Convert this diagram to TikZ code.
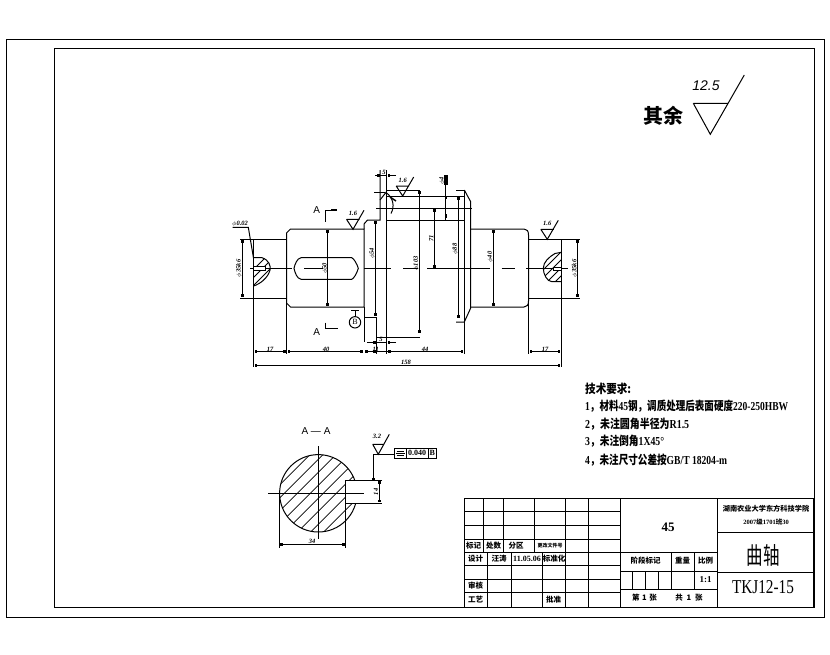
\documentclass[tikz,border=0pt]{standalone}
\usepackage{fontspec}
\setmainfont{Liberation Serif}
\newfontfamily\cjk{Noto Sans CJK SC}
\newfontfamily\sanslab{Liberation Sans}
\usetikzlibrary{arrows.meta}
\tikzset{
  ln/.style={line width=1pt,black},
  dimn/.style={line width=0.9pt,black,{Square[length=2.8pt,width=2.8pt]}-{Square[length=2.8pt,width=2.8pt]}},
  dimr/.style={line width=0.9pt,black,-{Square[length=2.8pt,width=2.8pt]}},
  small/.style={inner sep=0pt,font=\fontsize{6.5}{6.5}\selectfont\bfseries\itshape},
  smallr/.style={small,rotate=90},
  tb/.style={inner sep=0pt,font=\cjk\bfseries\fontsize{7.5}{8}\selectfont},
  req/.style={inner sep=0pt,anchor=west,font=\bfseries\fontsize{10}{11}\selectfont},
  secA/.style={inner sep=0pt,font=\sanslab\fontsize{10}{10}\selectfont}
}
\newcommand{\roughsym}[3]{% tip x, tip y, label
  \draw[ln] (#1-6.5,#2-10) -- (#1+6.5,#2-10) (#1-6.5,#2-10) -- (#1,#2) -- (#1+11,#2-19);
  \node[small] (rs#1) at (#1,#2-16) {#3};}
\newcommand{\cj}[1]{{\cjk #1}}
\begin{document}
\begin{tikzpicture}[x=1pt,y=-1pt]
\useasboundingbox (0,0) rectangle (830,654);
\fill[white] (0,0) rectangle (830,654);
% frames
\draw[ln] (6,39) rectangle (824,617);
\draw[ln] (54,48) rectangle (814,607);
% general roughness
\node[inner sep=0pt,font=\cjk\bfseries\fontsize{20}{20}\selectfont] (qiyu) at (663,116) {其余};
\node[inner sep=0pt,font=\sanslab\itshape\fontsize{14}{14}\selectfont] (ra) at (706,86) {12.5};
\draw[ln] (693.3,103.3) -- (728.3,103.3) (693.3,103.3) -- (710.3,134.3) -- (744.3,75);
% shaft outline
\draw[ln] (253.5,239) -- (286.5,239) (253.5,298) -- (286.5,298);
\draw[ln] (286.5,233) -- (290.5,229) -- (364,229) -- (364,307) -- (290.5,307) -- (286.5,303) -- cycle;
\draw[ln] (364,229) -- (364,224) -- (367.5,220) -- (380,220) -- (380,170);
\draw[ln] (364,307) -- (364,342);
\draw[ln] (364,317) -- (376.7,317) -- (376.7,337) -- (420,337);
\draw[ln] (386.7,170) -- (386.7,337);
\draw[ln] (386.7,190) -- (420,190) (456,190) -- (464.3,190);
\draw[ln] (386.7,196) -- (464.3,196);
\draw[ln] (376,208) -- (471.5,208);
\draw[ln] (386.7,220) -- (464.3,220);
\draw[ln] (464.3,190) -- (470.7,201.7) -- (470.7,308) -- (464.3,322) -- (456,322);
\draw[ln] (464.3,190) -- (464.3,354);
\draw[ln] (470.7,229) -- (524,229) .. controls (527,229) and (528.5,231) .. (528.5,235) -- (528.5,301) .. controls (528.5,305) and (527,307) .. (524,307) -- (470.7,307);
\draw[ln] (528.5,239) -- (561.3,239) (528.5,298) -- (561.3,298);
\draw[ln] (561.3,239) -- (561.3,367);
\draw[ln] (253.5,239) -- (253.5,367);
\draw[ln] (286.5,303) -- (286.5,354);
\draw[ln] (528.5,301) -- (528.5,354);
% key slot
\draw[ln] (294,268.3) .. controls (295,264) and (297,258.5) .. (301,257.7) -- (351.7,257.7) .. controls (354,258.5) and (357,264) .. (358.3,268.3) .. controls (357,273) and (354,278.5) .. (351.7,279.3) -- (301,279.3) .. controls (297,278.5) and (295,273) .. (294,268.3) -- cycle;
% centre line
\draw[ln] (250,268.3) -- (291.7,268.3) (304,268.3) -- (323,268.3) (364,268.3) -- (390.7,268.3) (403.3,268.3) -- (418.3,268.3) (427,268.3) -- (490,268.3) (501.7,268.3) -- (515,268.3) (526,268.3) -- (568.3,268.3);
% left end section
\begin{scope}
\clip (253.5,257.7) -- (262,257.7) .. controls (269,260) and (271,266) .. (270,270) .. controls (268,278) and (260,284) .. (253.5,286) -- cycle;
\foreach \k in {0,8,...,48}{\draw[line width=0.8pt] (253+\k-20,290) -- (253+\k+20,250);}
\end{scope}
\draw[ln] (253.5,257.7) -- (262,257.7) .. controls (269,260) and (271,266) .. (270,270) .. controls (268,278) and (260,284) .. (253.5,286);
\draw[ln,fill=white] (253.5,266.7) rectangle (265,270);
% right end section
\begin{scope}
\clip (561.3,252.3) -- (555,253.5) .. controls (549,257) and (543.3,262) .. (543.3,268.3) .. controls (543.3,274) and (547,281.7) .. (552,281.7) -- (561.3,281.7) -- cycle;
\foreach \k in {0,8,...,48}{\draw[line width=0.8pt] (535+\k-20,290) -- (535+\k+20,250);}
\end{scope}
\draw[ln] (561.3,252.3) -- (555,253.5) .. controls (549,257) and (543.3,262) .. (543.3,268.3) .. controls (543.3,274) and (547,281.7) .. (552,281.7) -- (561.3,281.7);
\draw[ln,fill=white] (553.3,267) rectangle (561.3,270);
% extension lines
\draw[ln] (240,239) -- (253.5,239) (240,298) -- (253.5,298);
\draw[ln] (561.3,239) -- (580,239) (561.3,298) -- (580,298);
% dimensions vertical
\draw[dimn] (242.3,240) -- (242.3,297);
\draw[dimn] (327.5,230) -- (327.5,306);
\draw[dimn] (375,221) -- (375,316);
\draw[dimn] (419.5,191) -- (419.5,333);
\draw[dimn] (434,209) -- (434,267.5);
\draw[dimn] (458,197) -- (458,318);
\draw[dimn] (493,230) -- (493,306);
\draw[dimn] (577.3,240) -- (577.3,297);
\draw[ln] (445.5,175) -- (445.5,220);
\fill (444,175) rectangle (447.5,185);
\fill (445,196) rectangle (446.5,199);
\fill (445,214) rectangle (446.5,218);
% dimensions horizontal
\draw[dimn] (254.5,351.7) -- (285.5,351.7);
\draw[dimn] (287.5,351.7) -- (363,351.7);
\draw[dimn] (365,351.7) -- (375.7,351.7);
\draw[dimn] (387.7,351.7) -- (463.3,351.7);
\draw[dimn] (529.5,351.7) -- (560.3,351.7);
\draw[dimn] (254.5,365.3) -- (560.3,365.3);
\draw[ln] (376.7,337) -- (376.7,354);
\draw[ln] (386.7,337) -- (386.7,354);
\draw[ln] (375.7,351.7) -- (392,351.7);
\draw[dimr] (367,342) -- (376,342);
\draw[dimr] (396,342) -- (387.5,342);
\draw[ln] (376.7,342) -- (386.7,342);
\draw[dimr] (375,175) -- (379.5,175);
\draw[dimr] (396,175) -- (387.5,175);
\draw[ln] (380,175) -- (386.7,175);
% chamfer callout
\draw[ln] (374,192.3) -- (385,192.3);
\draw[ln] (380,200) -- (386.7,191.5);
\draw[ln] (386.7,193) .. controls (393,198) and (395,206) .. (391,213.5);
\draw[line width=1.4pt] (390,197) -- (396,201);
% leader left
\draw[ln] (232.5,227.3) -- (248.3,227.3) -- (253.5,258);
% labels
\node[small] (t1) at (240,224) {$\phi$0.02};
\node[smallr] (t2) at (239,268.3) {$\phi$35k6};
\node[smallr] (t3) at (325,268.3) {$\phi$50};
\node[smallr] (t4) at (372.3,253.3) {$\phi$54};
\node[smallr] (t5) at (416.3,263.5) {$\phi$103};
\node[smallr] (t6) at (431.3,238.5) {71};
\node[smallr] (t7) at (455.3,249) {$\phi$88};
\node[smallr] (t8) at (490.3,257) {$\phi$40};
\node[smallr] (t9) at (574.7,268.3) {$\phi$35k6};
\node[smallr] (t10) at (442,181) {$\phi$4};
\node[small] (t11) at (270,349) {17};
\node[small] (t12) at (326,349) {40};
\node[small] (t13) at (375.7,349) {11};
\node[small] (t14) at (425,349) {44};
\node[small] (t15) at (545,349) {17};
\node[small] (t16) at (406,362) {158};
\node[small] (t17) at (381,339) {5};
\node[small] (t18) at (384,172) {5};
% roughness marks
\roughsym{353}{229.3}{1.6}
\roughsym{402.7}{196}{1.6}
\roughsym{547.3}{239.3}{1.6}
% section marks
\node[secA] (a1) at (316.7,210) {A};
\draw[ln] (325.3,221.7) -- (325.3,210) -- (331,210);
\draw[line width=1.4pt] (331,210) -- (337.3,210);
\node[secA] (a2) at (316.7,331.7) {A};
\draw[ln] (325.3,322.7) -- (325.3,328.7) -- (331,328.7);
\draw[line width=1.4pt] (331,328.7) -- (338.3,328.7);
% datum B
\draw[ln] (355,322.3) circle (5.7);
\node[inner sep=0pt,font=\fontsize{8}{8}\selectfont] (dB) at (355,322.3) {B};
\draw[ln] (355,316.6) -- (355,310.7) (351,310.7) -- (359,310.7);
% A-A section
\node[secA] (aa) at (316,431) {A — A};
\begin{scope}
\clip (318.3,493.3) circle (38.7);
\foreach \k in {-60,-47,...,60}{\draw[line width=0.8pt] (318.3+\k-50,493.3+50) -- (318.3+\k+50,493.3-50);}
\end{scope}
\fill[white] (345.7,480.3) rectangle (360,503.3);
\draw[ln] (318.3,493.3) circle (38.7);
\fill[white] (346.3,481) rectangle (360,502.7);
\draw[ln] (382,480.3) -- (345.7,480.3) -- (345.7,503.3) -- (382,503.3);
\draw[ln] (268.3,493.3) -- (364,493.3);
\draw[ln] (318.3,446) -- (318.3,539);
\draw[dimn] (379.3,481.3) -- (379.3,502.3);
\draw[ln] (279.3,493.3) -- (279.3,548) (345.7,503.3) -- (345.7,548);
\draw[dimn] (280.3,544.3) -- (344.7,544.3);
\node[small] (t20) at (312,541) {34};
\node[smallr] (t21) at (376,491.8) {14};
\draw[dimr] (373.3,454.3) -- (373.3,480.3);
\draw[ln] (373.3,454.3) -- (394.3,454.3);
\draw[ln] (372.7,444.3) -- (384,444.3) (372.7,444.3) -- (378.3,454.3) -- (389.3,434.3);
\node[small] (t22) at (377,436.5) {3.2};
\draw[ln] (394.3,448.3) rectangle (436,458.3);
\draw[ln] (406,448.3) -- (406,458.3) (428.3,448.3) -- (428.3,458.3);
\draw[ln] (396.5,451) -- (403.5,451) (395.5,453.3) -- (404.5,453.3) (396.5,455.6) -- (403.5,455.6);
\node[inner sep=0pt,font=\fontsize{8}{8}\selectfont\bfseries] (tol) at (417.2,453.3) {0.040};
\node[inner sep=0pt,font=\fontsize{8}{8}\selectfont\bfseries] (tolB) at (432.2,453.3) {B};
% technical requirements
\node[req] (r0) at (585,388.5) {\resizebox{46pt}{10.5pt}{\cj{技术要求:}}};
\node[req] (r1) at (585,406) {\resizebox{203pt}{10.5pt}{1\cj{，材料}45\cj{钢，调质处理后表面硬度}220-250HBW}};
\node[req] (r2) at (585,424) {\resizebox{104pt}{10.5pt}{2\cj{，未注圆角半径为}R1.5}};
\node[req] (r3) at (585,441) {\resizebox{79pt}{10.5pt}{3\cj{，未注倒角}1X45°}};
\node[req] (r4) at (585,460) {\resizebox{142pt}{10.5pt}{4\cj{，未注尺寸公差按}GB/T 18204-m}};
% title block
\draw[ln] (464,498.3) rectangle (813.5,607);
\foreach \y in {511.7,525,539,552,565.7,579,592.7}{\draw[ln] (464,\y) -- (620.3,\y);}
\foreach \x in {483.3,503.3,534.3,565.3,588.3}{\draw[ln] (\x,498.3) -- (\x,552);}
\foreach \x in {487.3,511.7,542.3}{\draw[ln] (\x,552) -- (\x,607);}
\draw[ln] (565.3,552) -- (565.3,607) (588.3,552) -- (588.3,607);
\draw[ln] (620.3,498.3) -- (620.3,607);
\draw[ln] (717.7,498.3) -- (717.7,607);
\draw[ln] (620.3,552) -- (717.7,552);
\draw[ln] (620.3,571.7) -- (717.7,571.7);
\draw[ln] (620.3,589.3) -- (717.7,589.3);
\draw[ln] (671,552) -- (671,589.3) (694,552) -- (694,589.3);
\draw[ln] (632.7,571.7) -- (632.7,589.3) (645.7,571.7) -- (645.7,589.3) (658.3,571.7) -- (658.3,589.3);
\draw[ln] (717.7,532.7) -- (813.5,532.7) (717.7,572.7) -- (813.5,572.7);
\node[tb] (b1) at (473.5,545.5) {标记};
\node[tb] (b2) at (493.5,545.5) {处数};
\node[tb] (b3) at (516,545.5) {分区};
\node[tb,font=\cjk\bfseries\fontsize{5}{5}\selectfont] (b4) at (550,545.5) {更改文件号};
\node[tb] (b5) at (475.5,558.5) {设计};
\node[tb] (b6) at (499,558.5) {汪涛};
\node[inner sep=0pt,font=\bfseries\fontsize{8}{8}\selectfont] (b7) at (527,558.5) {11.05.06};
\node[tb] (b8) at (554,558.5) {标准化};
\node[tb] (b9) at (475.5,586) {审核};
\node[tb] (b10) at (475.5,599.5) {工艺};
\node[tb] (b11) at (553.5,599.5) {批准};
\node[inner sep=0pt,font=\bfseries\fontsize{13}{13}\selectfont] (b12) at (668,527) {45};
\node[tb] (b13) at (645.5,561) {阶段标记};
\node[tb] (b14) at (682.5,561) {重量};
\node[tb] (b15) at (705.7,561) {比例};
\node[inner sep=0pt,font=\bfseries\fontsize{9}{9}\selectfont] (b16) at (705.7,580) {1:1};
\node[tb] (b17) at (644.5,598) {第\,\,1\,\,张};
\node[tb] (b18) at (689,598) {共\,\,\,1\,\,\,张};
\node[inner sep=0pt,font=\cjk\bfseries\fontsize{7.2}{8}\selectfont] (b19) at (766,508.5) {湖南农业大学东方科技学院};
\node[inner sep=0pt,font=\bfseries\fontsize{6.5}{6.5}\selectfont] (b20) at (766,522.5) {2007\cj{级}1701\cj{班}30};
\node[inner sep=0pt] (b21) at (763,555) {\resizebox{33pt}{20pt}{\cj{曲轴}}};
\node[inner sep=0pt] (b22) at (763,587) {\resizebox{62pt}{13pt}{TKJ12-15}};
\end{tikzpicture}
\end{document}
